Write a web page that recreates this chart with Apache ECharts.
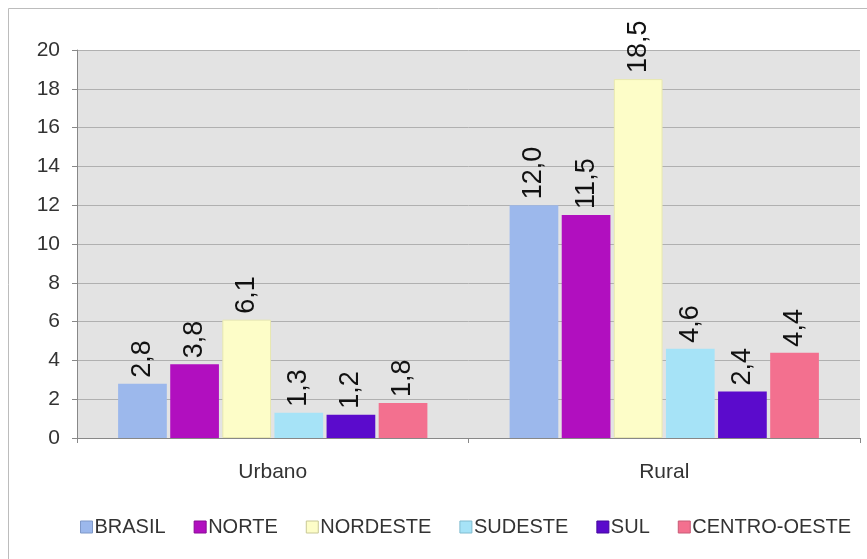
<!DOCTYPE html>
<html><head><meta charset="utf-8">
<script src="https://cdn.jsdelivr.net/npm/echarts@6/dist/echarts.min.js"></script>
<style>html,body{margin:0;padding:0;background:#fff}#c{width:867px;height:559px}</style>
</head><body><div id="c"></div>
<script>
const categories = ['Urbano', 'Rural'];
const seriesNames = ['BRASIL', 'NORTE', 'NORDESTE', 'SUDESTE', 'SUL', 'CENTRO-OESTE'];
const brasil = [2.8, 12.0];
const norte = [3.8, 11.5];
const nordeste = [6.1, 18.5];
const sudeste = [1.3, 4.6];
const sul = [1.2, 2.4];
const centroOeste = [1.8, 4.4];
const yTicks = [0, 2, 4, 6, 8, 10, 12, 14, 16, 18, 20];

const values = [brasil, norte, nordeste, sudeste, sul, centroOeste];
const colors = ['#9cb8ec', '#b10fbf', '#fdfdc8', '#a6e3f7', '#5b0bcc', '#f3708f'];
const borders = ['#7f98c8', '#8a0a96', '#c8c896', '#80bcd0', '#45089e', '#c85a76'];
const FONT = 'Liberation Sans, Arial, sans-serif';

const chart = echarts.init(document.getElementById('c'), null, {renderer: 'canvas'});
chart.setOption({
  animation: false,
  backgroundColor: '#ffffff',
  graphic: [{
    type: 'rect', shape: {x: 8.5, y: 8.5, width: 880, height: 600},
    style: {fill: 'none', stroke: '#bcbcbc', lineWidth: 1}, silent: true, z: -10
  }],
  grid: {left: 77, right: 7, top: 50, bottom: 121, backgroundColor: '#e3e3e3', show: true, borderWidth: 0},
  legend: {
    top: 517, left: 80, width: 786, padding: 0, itemWidth: 12, itemHeight: 12, itemGap: 28,
    icon: 'rect',
    textStyle: {fontFamily: FONT, fontSize: 20, color: '#333', padding: [0, 0, 0, -3]},
    data: seriesNames.map((n, i) => ({name: n, itemStyle: {borderColor: borders[i], borderWidth: 1}}))
  },
  xAxis: {
    type: 'category', data: categories,
    axisLine: {lineStyle: {color: '#888'}},
    axisTick: {show: true, length: 5, lineStyle: {color: '#888'}},
    axisLabel: {fontFamily: FONT, fontSize: 21, color: '#333', margin: 24}
  },
  yAxis: {
    type: 'value', min: 0, max: 20, interval: 2,
    axisLine: {show: true, lineStyle: {color: '#888'}},
    axisTick: {show: true, length: 5, lineStyle: {color: '#888'}},
    splitLine: {lineStyle: {color: '#b0b0b0'}},
    axisLabel: {fontFamily: FONT, fontSize: 21, color: '#333', margin: 17,
      formatter: v => yTicks.includes(v) ? String(v) : ''}
  },
  series: seriesNames.map((name, i) => ({
    name, type: 'bar', data: values[i],
    barGap: '7%', barCategoryGap: '21%',
    itemStyle: {color: colors[i], borderColor: i === 2 ? '#e8e8b0' : 'transparent', borderWidth: i === 2 ? 1 : 0},
    label: {
      show: true, position: 'top', rotate: 90, align: 'left', verticalAlign: 'middle', distance: 6,
      fontFamily: FONT, fontSize: 27, color: '#111',
      formatter: p => p.value.toFixed(1).replace('.', ',')
    }
  }))
});
</script></body></html>
